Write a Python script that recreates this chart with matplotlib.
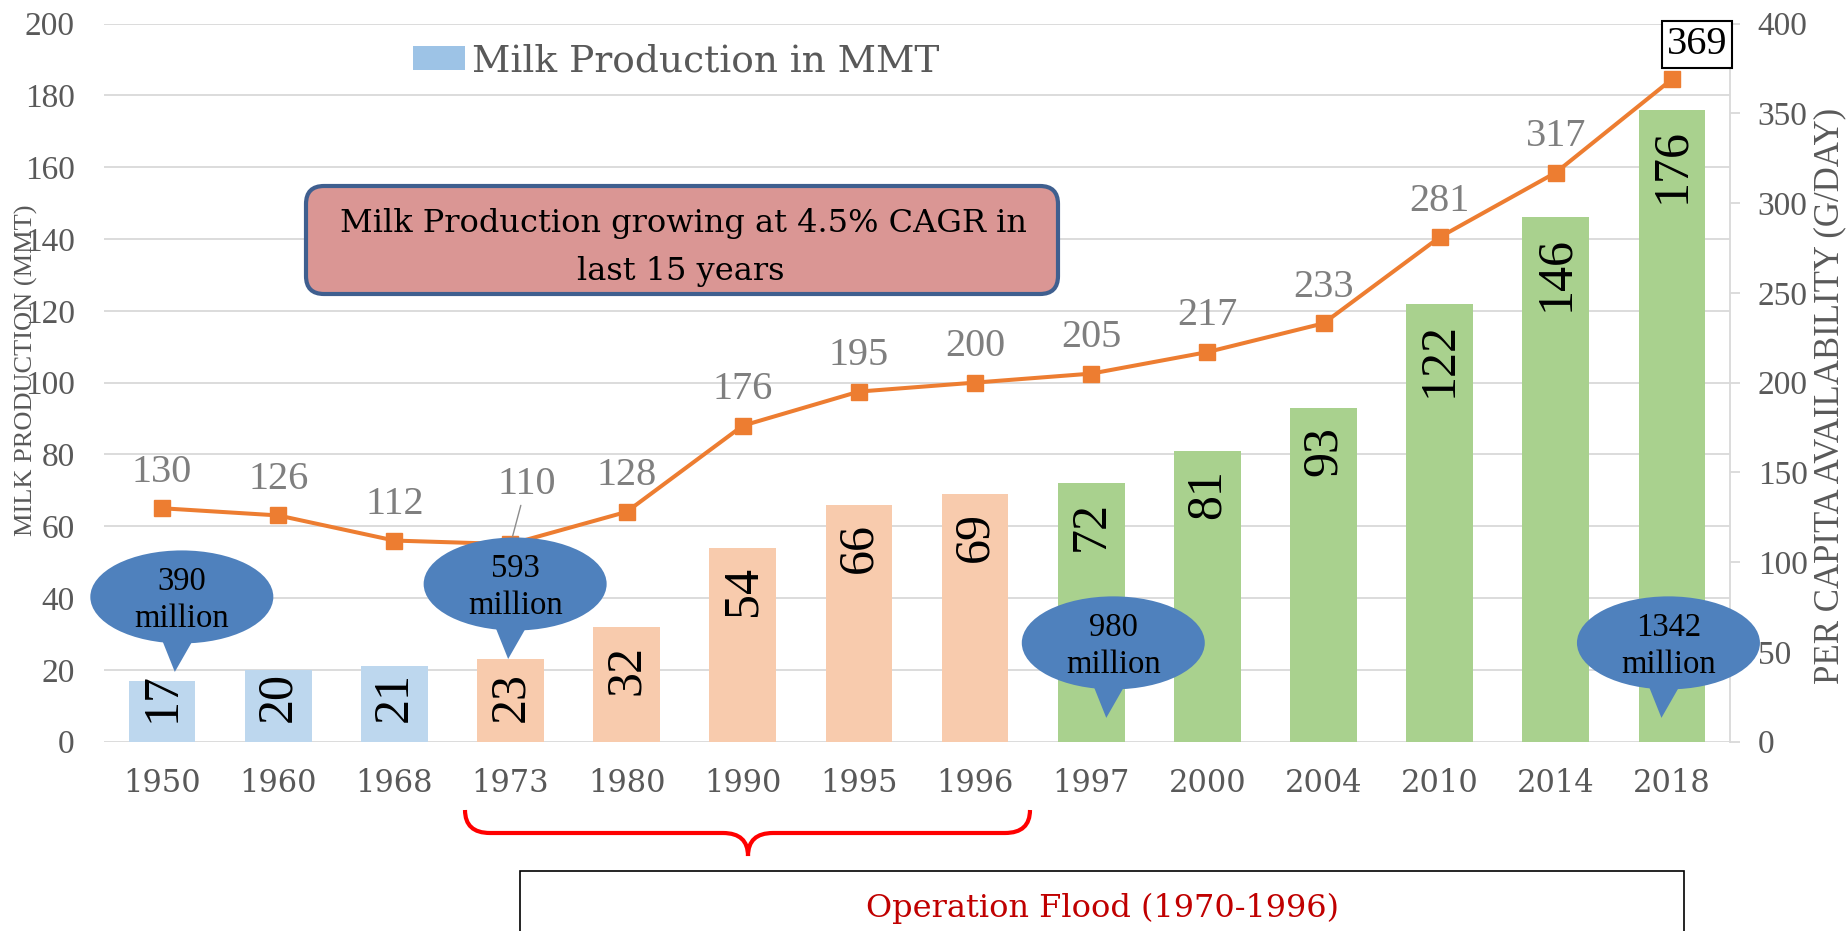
import matplotlib
matplotlib.use('Agg')
import matplotlib.pyplot as plt
from matplotlib.patches import Ellipse, Polygon, FancyBboxPatch, Rectangle, PathPatch, Patch
from matplotlib.path import Path
from matplotlib.transforms import Affine2D

years = ['1950', '1960', '1968', '1973', '1980', '1990', '1995',
         '1996', '1997', '2000', '2004', '2010', '2014', '2018']
milk_mmt = [17, 20, 21, 23, 32, 54, 66, 69, 72, 81, 93, 122, 146, 176]
per_capita = [130, 126, 112, 110, 128, 176, 195, 200, 205, 217, 233, 281, 317, 369]
phase = ['before'] * 3 + ['flood'] * 5 + ['after'] * 6
phase_colors = {'before': '#BDD7EE', 'flood': '#F8CBAD', 'after': '#A9D18E'}
population_years = ['1950', '1973', '1997', '2018']
population_mn = [390, 593, 980, 1342]

plt.rcParams['font.family'] = ['Liberation Serif', 'DejaVu Serif']

W, H = 1849, 931
fig = plt.figure(figsize=(W / 100, H / 100), dpi=100)
px = Affine2D().scale(1, -1).translate(0, H)  # pixel coords, origin top left

ax = fig.add_axes([104 / W, 1 - 741.6 / H, 1626 / W, 718 / H])
x = list(range(len(years)))
ax.bar(x, milk_mmt, width=0.575, color=[phase_colors[p] for p in phase], zorder=2)
ax.set_xlim(-0.5, len(years) - 0.5)
ax.set_ylim(0, 200)
ax.set_yticks(range(0, 201, 20))
ax.set_xticks(x)
ax.set_xticklabels(years, family='DejaVu Serif', fontsize=22, color='#595959')
ax.tick_params(axis='x', length=0, pad=19)
ax.tick_params(axis='y', length=0, pad=21, labelsize=24, labelcolor='#595959')
ax.grid(axis='y', color='#D9D9D9', lw=1.3)
ax.set_axisbelow(True)
for s in ax.spines.values():
    s.set_visible(False)

# px per data unit on the bar axis
ux = 1626 / len(years)
uy = 718 / 200

for i, v in enumerate(milk_mmt):
    if v * uy < 18 + 25 * len(str(v)) + 20:
        ax.annotate(str(v), (i, 0), xytext=(0, 14), textcoords='offset points',
                    rotation=90, ha='center', va='bottom', fontsize=36, zorder=3)
    else:
        ax.annotate(str(v), (i, v), xytext=(0, -13), textcoords='offset points',
                    rotation=90, ha='center', va='top', fontsize=36, zorder=3)

ax2 = ax.twinx()
ax2.plot(x, per_capita, color='#ED7D31', lw=2.9, marker='s', ms=12, zorder=3)
ax2.set_ylim(0, 400)
ax2.set_yticks(range(0, 401, 50))
ax2.tick_params(axis='y', length=7, width=1.3, color='#D9D9D9', pad=13,
                labelsize=24, labelcolor='#595959')
for s in ['top', 'left', 'bottom']:
    ax2.spines[s].set_visible(False)
ax2.spines['right'].set_color('#D9D9D9')
ax2.spines['right'].set_linewidth(1.3)

for i, v in enumerate(per_capita):
    if years[i] == '1973':
        ax2.annotate(str(v), (i, v), xytext=(11.5, 36.4), textcoords='offset points',
                     ha='center', va='baseline', fontsize=29, color='#7F7F7F',
                     arrowprops=dict(arrowstyle='-', color='#8C8C8C', lw=1,
                                     shrinkA=0, shrinkB=6))
    elif i == len(per_capita) - 1:
        ax2.annotate(str(v), (i, v), xytext=(18, 18.4), textcoords='offset points',
                     ha='center', va='baseline', fontsize=29, color='black',
                     bbox=dict(boxstyle='square,pad=0.12', fc='white', ec='black', lw=1.5),
                     zorder=6)
    else:
        ax2.annotate(str(v), (i, v), xytext=(0, 19.2), textcoords='offset points',
                     ha='center', va='baseline', fontsize=29, color='#7F7F7F')

# population callouts
bubble_layout = [(0.17, 40.3), (0.04, 43.9), (0.19, 27.5), (-0.03, 27.5)]
for yr, pop, (dx, cy) in zip(population_years, population_mn, bubble_layout):
    cx = years.index(yr) + dx
    tail = Polygon([(cx - 21 / ux, cy - 40 / uy), (cx + 13 / ux, cy - 40 / uy),
                    (cx - 7 / ux, cy - 75 / uy)], closed=True, fc='#4F81BD',
                   ec='none', transform=ax.transData, zorder=5, clip_on=False)
    ell = Ellipse((cx, cy), 183 / ux, 93 / uy, fc='#4F81BD', ec='none',
                  transform=ax.transData, zorder=5, clip_on=False)
    ax2.add_patch(tail)
    ax2.add_patch(ell)
    ax2.text(cx, cy + 7 / uy, str(pop), transform=ax.transData, ha='center',
             va='baseline', fontsize=23.5, zorder=6)
    ax2.text(cx, cy - 30 / uy, 'million', transform=ax.transData, ha='center',
             va='baseline', fontsize=23.5, zorder=6)

ax.legend(handles=[Patch(facecolor='#9DC3E6', label='Milk Production in MMT')],
          loc='center left', bbox_to_anchor=(413, 61), bbox_transform=px,
          frameon=False, prop={'family': 'DejaVu Serif', 'size': 27},
          handlelength=1.39, handleheight=0.61, handletextpad=0.19,
          borderpad=0, borderaxespad=0, labelcolor='#595959')

# CAGR note
fig.add_artist(FancyBboxPatch((306, 186), 752, 108, boxstyle='round,pad=0,rounding_size=18',
                              fc='#DA9694', ec='#3F5F8F', lw=3, transform=px))
fig.text(683, 232, 'Milk Production growing at 4.5% CAGR in', transform=px,
         family='DejaVu Serif', fontsize=23, ha='center', va='baseline')
fig.text(681, 280, 'last 15 years', transform=px,
         family='DejaVu Serif', fontsize=23, ha='center', va='baseline')

# Operation Flood brace and box
M, C, L = Path.MOVETO, Path.CURVE3, Path.LINETO
verts = [(465, 810), (465, 833), (490, 833), (723, 833), (748, 833), (748, 856),
         (748, 833), (773, 833), (1005, 833), (1030, 833), (1030, 810)]
codes = [M, C, C, L, C, C, C, C, L, C, C]
fig.add_artist(PathPatch(Path(verts, codes), fill=False, ec='#FF0000', lw=3, transform=px))
fig.add_artist(Rectangle((520, 871), 1164, 80, fc='white', ec='black', lw=1.2, transform=px))
fig.text(1102, 917, 'Operation Flood (1970-1996)', transform=px, color='#C00000',
         family='DejaVu Serif', fontsize=23, ha='center', va='baseline')

fig.text(26, 370, 'MILK PRODUCTION (MMT)', transform=px, rotation=90, ha='center',
         va='center', fontsize=19, color='#595959')
fig.text(1830, 396, 'PER CAPITA AVAILABILITY (G/DAY)', transform=px, rotation=90,
         ha='center', va='center', fontsize=25, color='#595959')

fig.savefig('out.png', dpi=100)
